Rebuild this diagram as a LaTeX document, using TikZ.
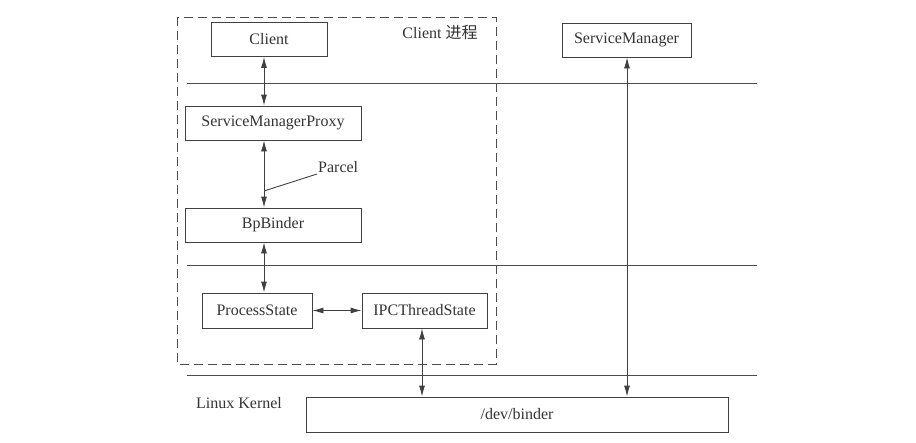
\documentclass[tikz,border=0pt]{standalone}
\usepackage{fontspec}
\setmainfont{Liberation Serif}
\newfontfamily\cjk{Noto Sans CJK SC}
\usetikzlibrary{arrows.meta}

\tikzset{
  box/.style={draw=black!75, line width=0.9pt, minimum height=34pt, inner sep=0pt},
  arr/.style={{Latex[length=11pt,width=6pt]}-{Latex[length=11pt,width=6pt]}, draw=black!75, line width=0.9pt},
  layer/.style={draw=black!70, line width=0.9pt}
}

\begin{document}
\begin{tikzpicture}[x=1pt, y=-1pt, font=\fontsize{16}{19}\selectfont, text=black!80]
    \useasboundingbox (0,0) rectangle (916,442);

    % ===== CLIENT PROCESS (dashed) =====
    \draw[dashed, dash pattern=on 9pt off 5pt, draw=black!70, line width=0.9pt]
        (177,17) rectangle (496,364);
    \node (proc) at (440,33) {Client \cjk 进程};

    % ===== LAYER LINES =====
    \draw[layer] (187,83) -- (757,83);
    \draw[layer] (187,265) -- (757,265);
    \draw[layer] (187,375) -- (757,375);

    % ===== BOXES =====
    \node[box, minimum width=116pt] (client) at (269,39.5) {Client};
    \node[box, minimum width=176pt] (smp)    at (273,123)  {ServiceManagerProxy};
    \node[box, minimum width=176pt] (bp)     at (273,225)  {BpBinder};
    \node[box, minimum width=110pt, minimum height=35pt] (ps)  at (257,310.5) {ProcessState};
    \node[box, minimum width=125pt, minimum height=35pt] (ipc) at (424.5,310.5) {IPCThreadState};
    \node[box, minimum width=129pt] (sm) at (626.5,40) {ServiceManager};
    \node[box, minimum width=422pt, minimum height=35pt] (binder) at (517,414.5) {/dev/binder};
    \node (kernel) at (239,403) {Linux Kernel};

    % ===== ARROWS =====
    \coordinate (cx) at (264,0);
    \draw[arr] (client.south -| cx) -- (smp.north -| cx);
    \draw[arr] (smp.south -| cx) -- (bp.north -| cx);
    \draw[arr] (bp.south -| cx) -- (ps.north -| cx);
    \draw[arr] (ps.east) -- (ipc.west);
    \coordinate (ix) at (422,0);
    \draw[arr] (ipc.south -| ix) -- (binder.north -| ix);
    \coordinate (sx) at (627,0);
    \draw[arr] (sm.south -| sx) -- (binder.north -| sx);

    % Parcel label
    \node[anchor=south west, inner sep=1pt] (parcel) at (317,174) {Parcel};
    \coordinate (pp) at (264,191);
    \draw[draw=black!75, line width=0.9pt] (pp) -- (parcel.south west);
\end{tikzpicture}
\end{document}
